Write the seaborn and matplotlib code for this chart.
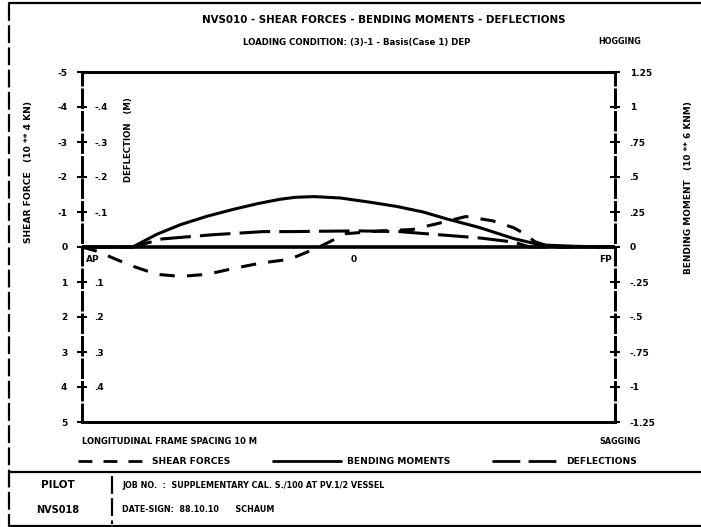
import matplotlib
matplotlib.use("Agg")
import matplotlib.pyplot as plt
from matplotlib.lines import Line2D
import numpy as np
import pandas as pd
import seaborn as sns

#-Stations along the ship (m) and curve values
x_sf = [0, 5.6, 18, 28, 37, 47, 57, 67, 78, 89, 99, 112, 124, 134, 144, 154, 162, 166, 170, 176, 200]
shear = [0, 0.12, 0.52, 0.78, 0.84, 0.78, 0.61, 0.46, 0.35, 0.0, -0.38, -0.46, -0.5, -0.68,
         -0.87, -0.75, -0.55, -0.38, -0.15, 0, 0]

x_bm = [0, 19, 28, 37, 47, 57, 66, 74, 80, 87, 97, 108, 118, 128, 137, 149, 162, 172, 185, 200]
moment = [0, 0.0, 0.09, 0.16, 0.22, 0.27, 0.31, 0.34, 0.355, 0.36, 0.35, 0.32, 0.29, 0.25,
          0.20, 0.14, 0.06, 0.015, 0.005, 0]

x_df = [0, 19, 30, 49, 68, 79, 89, 104, 119, 134, 149, 162, 168, 200]
deflection = [0, 0, -0.023, -0.035, -0.044, -0.044, -0.045, -0.046, -0.044, -0.035,
              -0.026, -0.014, 0, 0]

#-Axis ticks
sf_ticks = [-5, -4, -3, -2, -1, 0, 1, 2, 3, 4, 5]
sf_labels = ["-5", "-4", "-3", "-2", "-1", "0", "1", "2", "3", "4", "5"]
df_ticks = [-0.4, -0.3, -0.2, -0.1, 0.1, 0.2, 0.3, 0.4]
df_labels = ["-.4", "-.3", "-.2", "-.1", ".1", ".2", ".3", ".4"]
bm_ticks = [1.25, 1, 0.75, 0.5, 0.25, 0, -0.25, -0.5, -0.75, -1, -1.25]
bm_labels = ["1.25", "1", ".75", ".5", ".25", "0", "-.25", "-.5", "-.75", "-1", "-1.25"]
x_ticks = [0, 102, 200]
x_labels = ["AP", "0", "FP"]

sns.set_style("white")
plt.rcParams['font.family'] = ['DejaVu Sans']
plt.rcParams['font.weight'] = 'bold'
plt.rcParams['text.color'] = 'black'
plt.rcParams['xtick.color'] = 'black'
plt.rcParams['ytick.color'] = 'black'
plt.rcParams['axes.labelcolor'] = 'black'

fig = plt.figure(figsize=(7.01, 5.27), dpi=100)
W, H = 701.0, 527.0

def fx(px):
    return px / W

def fy(py):
    return 1 - py / H

ax = fig.add_axes([fx(82), fy(422), (615 - 82) / W, (422 - 72) / H])
ax_d = ax.twinx()
ax_b = ax.twinx()

sf_df = pd.DataFrame({"x": x_sf, "y": shear})
bm_df = pd.DataFrame({"x": x_bm, "y": moment})
de_df = pd.DataFrame({"x": x_df, "y": deflection})

sns.lineplot(data=sf_df, x="x", y="y", ax=ax, color="black", lw=2.2,
             linestyle=(0, (5, 4)))
sns.lineplot(data=de_df, x="x", y="y", ax=ax_d, color="black", lw=2.2,
             linestyle=(0, (10, 3)))
sns.lineplot(data=bm_df, x="x", y="y", ax=ax_b, color="black", lw=2.2)

ax.axhline(0, color="black", lw=2.6)

for a in (ax, ax_d, ax_b):
    a.set_xlim(0, 200)
    a.set_xlabel("")
    a.set_ylabel("")
    a.set_xticks([])
    for s in a.spines.values():
        s.set_color("black")
        s.set_linewidth(1.8)
    a.spines["left"].set_linestyle((0, (7, 2)))
    a.spines["right"].set_linestyle((0, (7, 2)))

ax.set_ylim(5, -5)
ax.set_yticks(sf_ticks)
ax.set_yticklabels(sf_labels)
ax.tick_params(axis="y", direction="inout", length=7, width=1.5, pad=7, labelsize=6.5)

ax_d.set_ylim(0.5, -0.5)
ax_d.yaxis.set_ticks_position("left")
ax_d.set_yticks(df_ticks)
ax_d.set_yticklabels(df_labels)
ax_d.tick_params(axis="y", length=0, pad=-9, labelsize=6.5, labelleft=True, labelright=False)
for t in ax_d.get_yticklabels():
    t.set_horizontalalignment("left")

ax_b.set_ylim(-1.25, 1.25)
ax_b.set_yticks(bm_ticks)
ax_b.set_yticklabels(bm_labels)
ax_b.tick_params(axis="y", direction="inout", length=7, width=1.5, pad=7, labelsize=6.5)

for xp, lab, ha in zip(x_ticks, x_labels, ["left", "center", "right"]):
    ax.annotate(lab, xy=(xp, 0), xytext=({"left": 3, "center": 0, "right": -2}[ha], -6),
                textcoords="offset points", ha=ha, va="top", fontsize=6.5, fontweight="bold")

#-Titles and axis names
fig.text(fx(384), fy(20), "NVS010 - SHEAR FORCES - BENDING MOMENTS - DEFLECTIONS",
         ha="center", va="center", fontsize=7.4, fontweight="bold")
fig.text(fx(357), fy(43), "LOADING CONDITION: (3)-1 - Basis(Case 1) DEP",
         ha="center", va="center", fontsize=6.2, fontweight="bold")
fig.text(fx(620), fy(42), "HOGGING", ha="center", va="center", fontsize=5.8, fontweight="bold")
fig.text(fx(620), fy(441), "SAGGING", ha="center", va="center", fontsize=5.8, fontweight="bold")
fig.text(fx(82), fy(441), "LONGITUDINAL FRAME SPACING 10 M", ha="left", va="center",
         fontsize=6.0, fontweight="bold")
fig.text(fx(29), fy(172), "SHEAR FORCE   (10 ** 4 KN)", rotation=90, ha="center", va="center",
         fontsize=6.6, fontweight="bold")
fig.text(fx(128), fy(140), "DEFLECTION   (M)", rotation=90, ha="center", va="center",
         fontsize=6.2, fontweight="bold")
fig.text(fx(688), fy(188), "BENDING MOMENT   (10 ** 6 KNM)", rotation=90, ha="center",
         va="center", fontsize=6.4, fontweight="bold")

#-Legend row
handles = [Line2D([], [], color="black", lw=2, linestyle=(0, (5, 4))),
           Line2D([], [], color="black", lw=2),
           Line2D([], [], color="black", lw=2, linestyle=(0, (10, 3)))]
fig.legend(handles, ["SHEAR FORCES", "BENDING MOMENTS", "DEFLECTIONS"], ncol=3,
           loc="center left", bbox_to_anchor=(fx(78), fy(462)), frameon=False,
           handlelength=7.5, columnspacing=4.6, handletextpad=0.6,
           borderaxespad=0, borderpad=0,
           prop={"size": 6.6, "weight": "bold"})

#-Drawing frame and title block
frame = [([9, 701], [3, 3]), ([9, 9], [3, 526]), ([9, 701], [472, 472]),
         ([9, 701], [526, 526]), ([112, 112], [476, 524])]
for xs, ys in frame:
    ls = (0, (8, 2)) if xs[0] == xs[1] else "-"
    fig.add_artist(Line2D([fx(v) for v in xs], [fy(v) for v in ys], color="black",
                          lw=1.6, linestyle=ls, transform=fig.transFigure))

fig.text(fx(58), fy(485), "PILOT", ha="center", va="center", fontsize=7.5, fontweight="bold")
fig.text(fx(58), fy(510), "NVS018", ha="center", va="center", fontsize=7, fontweight="bold")
fig.text(fx(122), fy(486), "JOB NO.  :  SUPPLEMENTARY CAL. S./100 AT PV.1/2 VESSEL",
         ha="left", va="center", fontsize=5.8, fontweight="bold")
fig.text(fx(122), fy(510), "DATE-SIGN:  88.10.10      SCHAUM", ha="left", va="center",
         fontsize=5.8, fontweight="bold")

fig.savefig("out.png", dpi=100)
